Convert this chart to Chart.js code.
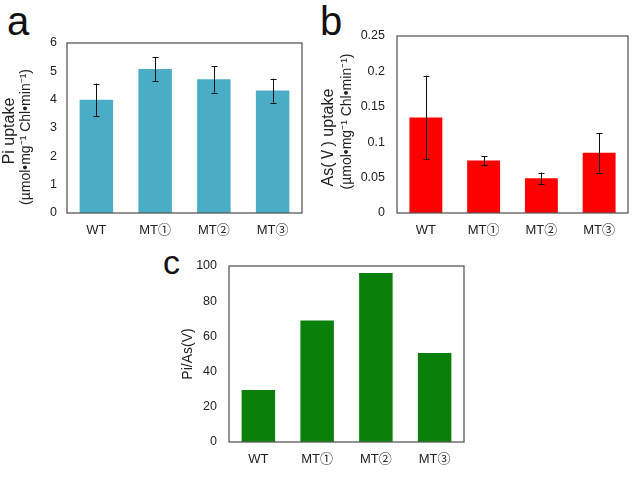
<!DOCTYPE html>
<html>
<head>
<meta charset="utf-8">
<script src="https://cdn.jsdelivr.net/npm/chart.js@4"></script>
<style>
  body { margin: 0; background: #fff; }
  #page { position: relative; width: 634px; height: 494px; overflow: hidden; }
  .box { position: absolute; }
  .panel {
    position: absolute;
    font-family: "Liberation Sans", Arial, sans-serif;
    line-height: 1;
    color: #111;
  }
</style>
</head>
<body>
<div id="page">
  <div class="panel" style="left:7px; top:1px; font-size:40px;">a</div>
  <div class="panel" style="left:320px; top:1px; font-size:40px;">b</div>
  <div class="panel" style="left:163px; top:245px; font-size:34px;">c</div>
  <div class="box" style="left:0; top:0;"><canvas id="chartA" width="320" height="245"></canvas></div>
  <div class="box" style="left:314px; top:0;"><canvas id="chartB" width="320" height="245"></canvas></div>
  <div class="box" style="left:150px; top:245px;"><canvas id="chartC" width="340" height="249"></canvas></div>
</div>
<script>
// strains
var strains = ["WT", "MT\u2460", "MT\u2461", "MT\u2462"];

// a: Pi uptake
var piUptake = [4.0, 5.08, 4.72, 4.32];
var piError = [0.57, 0.42, 0.47, 0.42];
var piTicks = ["0", "1", "2", "3", "4", "5", "6"];

// b: As(V) uptake
var asUptake = [0.135, 0.074, 0.049, 0.085];
var asError = [0.059, 0.0065, 0.008, 0.028];
var asTicks = ["0", "0.05", "0.1", "0.15", "0.2", "0.25"];

// c: Pi/As(V) ratio
var ratio = [29.5, 69, 96, 50.5];
var ratioTicks = ["0", "20", "40", "60", "80", "100"];

var units = "(\u00b5mol\u2022mg\u207b\u00b9 Chl\u2022min\u207b\u00b9)";

var FONT = '"Liberation Sans", Arial, "Noto Sans CJK JP", sans-serif';
var TEXT = "#222";

// draws +/- error bars on top of the bars
var errorBars = {
  id: "errorBars",
  afterDatasetsDraw: function (chart, args, opts) {
    if (!opts.errors) return;
    var ctx = chart.ctx;
    var yScale = chart.scales.y;
    var values = chart.data.datasets[0].data;
    ctx.save();
    ctx.strokeStyle = opts.color || "#000";
    ctx.lineWidth = 1;
    chart.getDatasetMeta(0).data.forEach(function (bar, i) {
      var hi = yScale.getPixelForValue(values[i] + opts.errors[i]);
      var lo = yScale.getPixelForValue(values[i] - opts.errors[i]);
      var x = Math.round(bar.x) + 0.5;
      ctx.beginPath();
      ctx.moveTo(x, hi);
      ctx.lineTo(x, lo);
      ctx.moveTo(x - 3, Math.round(hi) + 0.5);
      ctx.lineTo(x + 3, Math.round(hi) + 0.5);
      ctx.moveTo(x - 3, Math.round(lo) + 0.5);
      ctx.lineTo(x + 3, Math.round(lo) + 0.5);
      ctx.stroke();
    });
    ctx.restore();
  },
};

// box around the plot area
var frame = {
  id: "frame",
  afterDraw: function (chart) {
    var a = chart.chartArea;
    var ctx = chart.ctx;
    ctx.save();
    ctx.strokeStyle = "#5a5a5a";
    ctx.lineWidth = 1.3;
    ctx.strokeRect(a.left, a.top, a.right - a.left, a.bottom - a.top);
    ctx.restore();
  },
};

// rotated y-axis title, one font size per line
var yTitles = {
  id: "yTitles",
  afterDraw: function (chart, args, opts) {
    if (!opts.lines) return;
    var ctx = chart.ctx;
    var a = chart.chartArea;
    var cy = (a.top + a.bottom) / 2;
    ctx.save();
    ctx.fillStyle = TEXT;
    ctx.textAlign = "center";
    ctx.textBaseline = "middle";
    opts.lines.forEach(function (line) {
      ctx.save();
      ctx.translate(line.x, cy + line.dy);
      ctx.rotate(-Math.PI / 2);
      ctx.font = line.size + "px " + FONT;
      ctx.fillText(line.text, 0, 0);
      ctx.restore();
    });
    ctx.restore();
  },
};

function makeChart(id, values, color, errors, cfg) {
  return new Chart(document.getElementById(id), {
    type: "bar",
    data: {
      labels: strains,
      datasets: [
        {
          data: values,
          backgroundColor: color,
          borderWidth: 0,
          categoryPercentage: 1,
          barPercentage: 0.57,
        },
      ],
    },
    options: {
      responsive: false,
      animation: false,
      events: [],
      layout: { padding: cfg.padding },
      plugins: {
        legend: { display: false },
        tooltip: { enabled: false },
        errorBars: { errors: errors, color: "#111" },
        yTitles: { lines: cfg.titles },
      },
      scales: {
        x: {
          grid: { display: false, drawTicks: false },
          border: { display: false },
          ticks: { color: TEXT, font: { family: FONT, size: 13 }, padding: 10 },
          afterFit: function (scale) {
            scale.height = cfg.xHeight;
          },
        },
        y: {
          min: 0,
          max: cfg.max,
          grid: { display: false, drawTicks: false },
          border: { display: false },
          ticks: {
            stepSize: cfg.step,
            color: TEXT,
            font: { family: FONT, size: 12.5 },
            padding: cfg.tickPad,
            callback: function (v, i) {
              return cfg.ticks[i];
            },
          },
          afterFit: function (scale) {
            scale.width = cfg.yWidth;
          },
        },
      },
    },
    plugins: [errorBars, frame, yTitles],
  });
}

makeChart("chartA", piUptake, "#4BACC6", piError, {
  max: 6,
  step: 1,
  ticks: piTicks,
  tickPad: 10,
  titles: [
    { text: "Pi uptake", size: 16, x: 10, dy: 3 },
    { text: units, size: 14, x: 26.5, dy: 9 },
  ],
  yWidth: 67,
  xHeight: 32,
  padding: { top: 43, right: 18, bottom: 0, left: 0 },
});

makeChart("chartB", asUptake, "#FF0000", asError, {
  max: 0.25,
  step: 0.05,
  ticks: asTicks,
  tickPad: 12,
  titles: [
    { text: "As(\u2164) uptake", size: 16, x: 15, dy: 13 },
    { text: units, size: 14, x: 33, dy: -3 },
  ],
  yWidth: 83,
  xHeight: 32,
  padding: { top: 36, right: 6, bottom: 0, left: 0 },
});

makeChart("chartC", ratio, "#0A800A", null, {
  max: 100,
  step: 20,
  ticks: ratioTicks,
  tickPad: 12,
  titles: [{ text: "Pi/As(V)", size: 14, x: 38, dy: 0 }],
  yWidth: 79,
  xHeight: 52,
  padding: { top: 21, right: 26, bottom: 0, left: 0 },
});
</script>
</body>
</html>
